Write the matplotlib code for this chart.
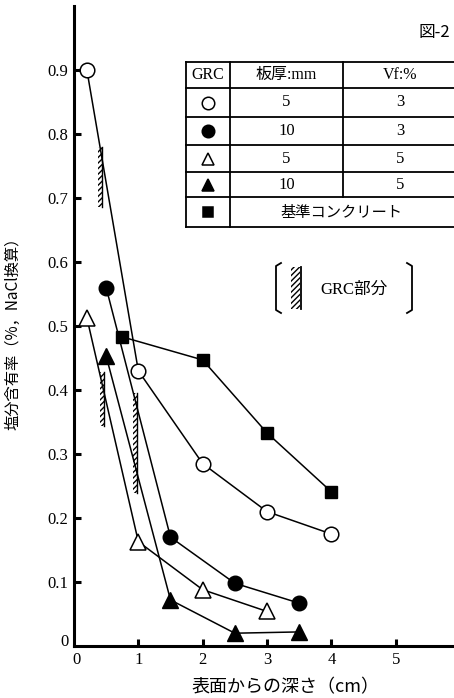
import matplotlib
matplotlib.use("Agg")
import matplotlib.pyplot as plt
from matplotlib.patches import Rectangle
from matplotlib.lines import Line2D

plt.rcParams['font.family'] = ['Liberation Serif', 'Noto Sans CJK JP', 'DejaVu Sans']
plt.rcParams['hatch.linewidth'] = 1.0

# ---- data ----
depth_open_circle = [0.2, 1.0, 2.0, 3.0, 4.0]
cl_open_circle = [0.90, 0.43, 0.285, 0.21, 0.175]
depth_filled_circle = [0.5, 1.5, 2.5, 3.5]
cl_filled_circle = [0.56, 0.17, 0.098, 0.067]
depth_open_tri = [0.2, 1.0, 2.0, 3.0]
cl_open_tri = [0.513, 0.163, 0.088, 0.054]
depth_filled_tri = [0.5, 1.5, 2.5, 3.5]
cl_filled_tri = [0.453, 0.072, 0.02, 0.022]
depth_ref = [0.75, 2.0, 3.0, 4.0]
cl_ref = [0.483, 0.447, 0.333, 0.241]

grc_x = [0.43, 0.46, 0.97]
grc_lo = [0.686, 0.343, 0.239]
grc_hi = [0.78, 0.428, 0.395]

x_ticks = [1, 2, 3, 4, 5]
y_ticks = [0.1, 0.2, 0.3, 0.4, 0.5, 0.6, 0.7, 0.8, 0.9]

table_header = ["GRC", "板厚:mm", "Vf:%"]
table_thick = ["5", "10", "5", "10"]
table_vf = ["3", "3", "5", "5"]
ref_label = "基準コンクリート"

W, H = 454, 698
fig = plt.figure(figsize=(W / 100, H / 100), dpi=100)
ax = fig.add_axes([74 / W, (H - 646) / H, 386 / W, 640 / H])
ax.set_xlim(0, 6)
ax.set_ylim(0, 1.0)
for s in ['top', 'right']:
    ax.spines[s].set_visible(False)
for s in ['left', 'bottom']:
    ax.spines[s].set_linewidth(2.2)

ax.set_xticks(x_ticks)
ax.set_xticklabels([str(v) for v in x_ticks], fontsize=12)
ax.set_yticks(y_ticks)
ax.set_yticklabels([f"{v:.1f}" for v in y_ticks], fontsize=12)
ax.tick_params(direction='in', length=5, width=2.2, pad=4)
ax.text(-0.09, 0.006, "0", ha='right', va='center', fontsize=12)
ax.text(0.04, -0.022, "0", ha='center', va='center', fontsize=12)

lw = 1.1
ax.plot(depth_open_circle, cl_open_circle, '-o', color='black', lw=lw, ms=10.5,
        mfc='white', mec='black', mew=1.1, zorder=3)
ax.plot(depth_filled_circle, cl_filled_circle, '-o', color='black', lw=lw, ms=10.5,
        mfc='black', zorder=3)
ax.plot(depth_open_tri, cl_open_tri, '-^', color='black', lw=lw, ms=11,
        mfc='white', mec='black', mew=1.1, zorder=3)
ax.plot(depth_filled_tri, cl_filled_tri, '-^', color='black', lw=lw, ms=11,
        mfc='black', zorder=3)
ax.plot(depth_ref, cl_ref, '-s', color='black', lw=lw, ms=8,
        mfc='black', zorder=3)

for x, lo, hi in zip(grc_x, grc_lo, grc_hi):
    ax.add_patch(Rectangle((x - 0.05, lo), 0.06, hi - lo, facecolor='white',
                           edgecolor='black', hatch='//////', lw=0, zorder=2))
    ax.plot([x + 0.01, x + 0.01], [lo, hi], color='black', lw=1.0, zorder=2)

# ---- overlay in pixel coordinates for labels / table / legend ----
ov = fig.add_axes([0, 0, 1, 1], facecolor='none')
ov.set_xlim(0, W)
ov.set_ylim(H, 0)
ov.axis('off')

ov.text(285, 687, "表面からの深さ（cm）", ha='center', va='center', fontsize=13,
        family=['Noto Sans CJK JP'])
ov.text(13, 330, "塩分含有率（%，NaCl換算）", ha='center', va='center', fontsize=11,
        rotation=90, family=['Noto Sans CJK JP'])

ov.text(419, 33, "図-2", fontsize=12, va='center', ha='left', family=['Noto Sans CJK JP'])

col_x = [186, 230, 343, 458]
row_y = [62, 88.3, 116.7, 145, 172.3, 197.3, 226.7]
for y in row_y:
    ov.add_line(Line2D([col_x[0], col_x[-1]], [y, y], color='black', lw=1.3))
ov.add_line(Line2D([col_x[0], col_x[0]], [row_y[0], row_y[-1]], color='black', lw=1.3))
ov.add_line(Line2D([col_x[1], col_x[1]], [row_y[0], row_y[-1]], color='black', lw=1.3))
ov.add_line(Line2D([col_x[2], col_x[2]], [row_y[0], row_y[-2]], color='black', lw=1.3))

ccol = [(col_x[i] + col_x[i + 1]) / 2 for i in range(3)]
ccol[2] = 400
for i, t in enumerate(table_header):
    ov.text(ccol[i], (row_y[0] + row_y[1]) / 2, t, ha='center', va='center', fontsize=11.5,
            family=['Liberation Serif', 'Noto Sans CJK JP'])
markers = [('o', 'white'), ('o', 'black'), ('^', 'white'), ('^', 'black'), ('s', 'black')]
for r in range(5):
    yc = (row_y[r + 1] + row_y[r + 2]) / 2
    m, fc = markers[r]
    ov.plot([208], [yc], marker=m, ms=9 if m != 's' else 7.5, mfc=fc, mec='black', mew=1.1)
    if r < 4:
        ov.text(ccol[1], yc, table_thick[r], ha='center', va='center', fontsize=12)
        ov.text(ccol[2], yc, table_vf[r], ha='center', va='center', fontsize=12)
    else:
        ov.text(341, yc, ref_label, ha='center', va='center', fontsize=11,
                family=['Noto Sans CJK JP'])

# GRC legend
bx0, bx1, by0, by1 = 276, 412, 263, 313
ov.add_line(Line2D([bx0 + 5, bx0, bx0, bx0 + 5], [by0, by0 + 3, by1 - 3, by1], color='black', lw=1.3))
ov.add_line(Line2D([bx1 - 5, bx1, bx1, bx1 - 5], [by0, by0 + 3, by1 - 3, by1], color='black', lw=1.3))
ov.add_patch(Rectangle((291, 267), 9, 42, facecolor='white', edgecolor='black',
                       hatch='//////', lw=0))
ov.add_line(Line2D([300.5, 300.5], [267, 309], color='black', lw=1.3))
ov.text(320, 290, "GRC部分", ha='left', va='center', fontsize=12,
        family=['Liberation Serif', 'Noto Sans CJK JP'])

fig.savefig("out.png", dpi=100)
